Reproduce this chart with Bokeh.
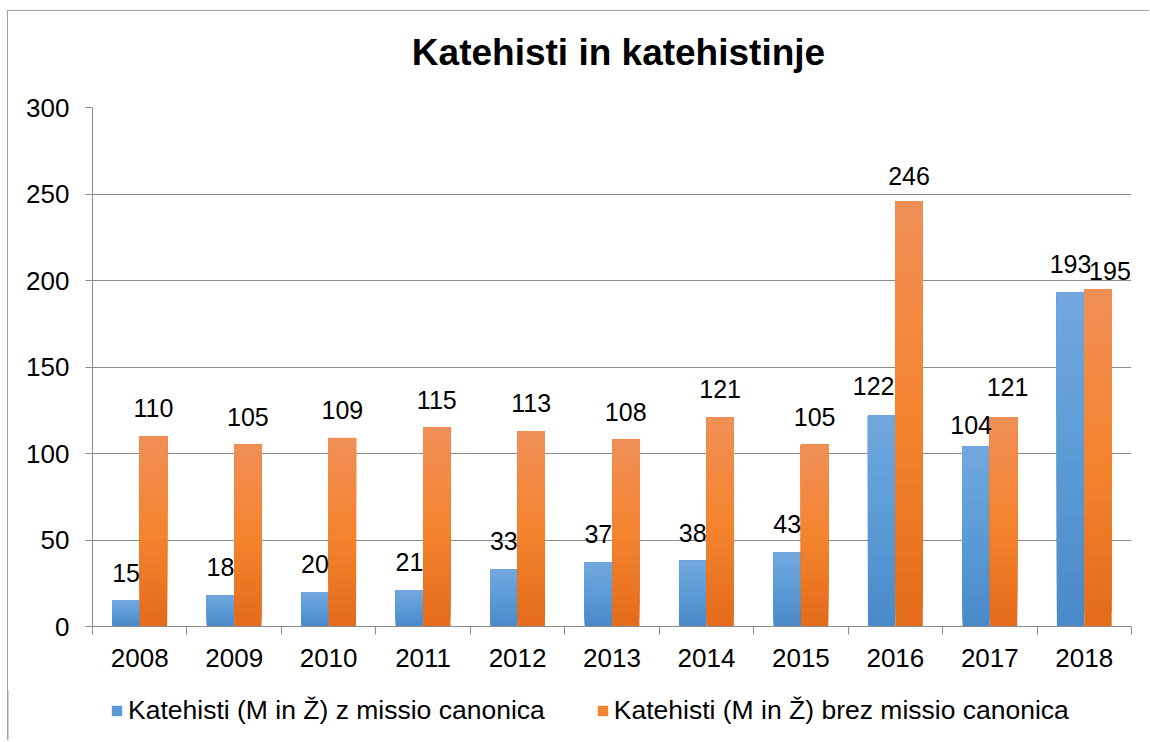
import numpy as np
from bokeh.plotting import figure
from bokeh.layouts import column
from bokeh.models import (Range1d, FixedTicker, LinearAxis, Legend, LegendItem,
                          ColumnDataSource)
from bokeh.embed import file_html
from bokeh.resources import INLINE

# ---------------- data ----------------
years = ["2008", "2009", "2010", "2011", "2012", "2013", "2014", "2015", "2016", "2017", "2018"]
with_missio = [15, 18, 20, 21, 33, 37, 38, 43, 122, 104, 193]
without_missio = [110, 105, 109, 115, 113, 108, 121, 105, 246, 121, 195]
series_names = ["Katehisti (M in Ž) z missio canonica",
                "Katehisti (M in Ž) brez missio canonica"]
y_ticks = [0, 50, 100, 150, 200, 250, 300]
title_text = "Katehisti in katehistinje"

# label nudges (pixels) to mimic hand-moved Excel labels
blue_dx = [0, 0, 0, 0, 0, 0, 0, 0, -8, -5, 0]
blue_dy = [-28, -28, -28, -28, -28, -28, -28, -28, -29, -22, -29]
orange_dx = [0, 0, 0, 0, 0, 0, 0, 0, 0, 4, 12]
orange_dy = [-28, -28, -28, -28, -28, -28, -28, -28, -25, -30, -18]

FONT = "Liberation Sans"
GRAY = "#8c8c8c"
BLUE_STOPS = ["#4a89c8", "#5b9bd5", "#72a8de"]     # bottom, middle, top
ORANGE_STOPS = ["#e36b1a", "#f5842f", "#f08f57"]

W, H_TITLE, H_MAIN, H_LEG = 1141, 76, 603, 50

# ---------------- title strip ----------------
tf = figure(width=W, height=H_TITLE, output_backend="svg", toolbar_location=None,
            x_range=Range1d(0, W), y_range=Range1d(0, H_TITLE),
            x_axis_type=None, y_axis_type=None,
            min_border_left=0, min_border_right=0, min_border_top=0, min_border_bottom=0,
            background_fill_color="white", border_fill_color="white")
tf.frame_align = False
tf.outline_line_color = None
tf.grid.visible = False
tf.text(x=[610], y=[H_TITLE - 41], text=[title_text],
        text_align="center", text_baseline="middle",
        text_font={"value": FONT}, text_font_style="bold",
        text_font_size="37px", text_color="black")

# ---------------- main chart ----------------
p = figure(width=W, height=H_MAIN, output_backend="svg", toolbar_location=None,
           x_range=Range1d(0, len(years)), y_range=Range1d(0, 300),
           x_axis_type=None,
           min_border_left=84, min_border_right=18, min_border_top=20, min_border_bottom=64,
           background_fill_color="white", border_fill_color="white")
p.outline_line_color = None
p.title.text = ""
p.title.standoff = 0
p.title.text_font_size = "8px"

# y axis
ya = p.yaxis[0]
ya.ticker = FixedTicker(ticks=y_ticks)
ya.major_label_text_font = FONT
ya.major_label_text_font_size = "26px"
ya.major_label_text_color = "black"
ya.major_tick_out = 7
ya.major_tick_in = 0
ya.minor_tick_line_color = None
ya.axis_line_color = GRAY
ya.major_tick_line_color = GRAY
ya.major_label_standoff = 16

p.ygrid.ticker = FixedTicker(ticks=y_ticks)
p.ygrid.grid_line_color = GRAY
p.ygrid.grid_line_width = 1

# x axis: labels at category centres, ticks at category boundaries
centers = [i + 0.5 for i in range(len(years))]
bounds = [float(i) for i in range(len(years) + 1)]
xa = LinearAxis(ticker=FixedTicker(ticks=centers, minor_ticks=bounds))
xa.major_label_overrides = {c: y for c, y in zip(centers, years)}
xa.major_tick_line_color = None
xa.major_tick_out = 0
xa.major_tick_in = 0
xa.minor_tick_out = 8
xa.minor_tick_in = 0
xa.minor_tick_line_color = GRAY
xa.axis_line_color = GRAY
xa.major_label_text_font = FONT
xa.major_label_text_font_size = "26px"
xa.major_label_text_color = "black"
xa.major_label_standoff = 14
p.add_layout(xa, "below")


def hex2rgb(h):
    h = h.lstrip("#")
    return [int(h[i:i + 2], 16) for i in (0, 2, 4)]


def grad(stops, t):
    a, b, c = [hex2rgb(s) for s in stops]
    if t < 0.5:
        u = t / 0.5
        lo, hi = a, b
    else:
        u = (t - 0.5) / 0.5
        lo, hi = b, c
    rgb = [round(lo[k] + (hi[k] - lo[k]) * u) for k in range(3)]
    return "#%02x%02x%02x" % tuple(rgb)


BAR_W = 0.29
OFFS = [-0.145, 0.145]
N = 24
for vals, stops, off in [(with_missio, BLUE_STOPS, OFFS[0]),
                         (without_missio, ORANGE_STOPS, OFFS[1])]:
    xs, bots, tops, cols = [], [], [], []
    for i in range(N):
        c = grad(stops, (i + 0.5) / N)
        for k, v in enumerate(vals):
            xs.append(k + 0.5 + off)
            bots.append(v * i / N)
            tops.append(v)
            cols.append(c)
    src = ColumnDataSource(dict(x=xs, bottom=bots, top=tops, color=cols))
    p.vbar(x="x", bottom="bottom", top="top", width=BAR_W, source=src,
           fill_color="color", line_color=None)

# data labels
for vals, off, dx, dy in [(with_missio, OFFS[0], blue_dx, blue_dy),
                          (without_missio, OFFS[1], orange_dx, orange_dy)]:
    src = ColumnDataSource(dict(x=[k + 0.5 + off for k in range(len(vals))], y=vals,
                                t=[str(v) for v in vals], dx=dx, dy=dy))
    p.text(x="x", y="y", text="t", x_offset="dx", y_offset="dy", source=src,
           text_align="center", text_baseline="middle",
           text_font_size="25px", text_color="black",
           text_font={"value": FONT})

# ---------------- legend strip ----------------
lf = figure(width=W, height=H_LEG, output_backend="svg", toolbar_location=None,
            x_range=Range1d(0, 1), y_range=Range1d(0, 1),
            x_axis_type=None, y_axis_type=None,
            min_border_left=0, min_border_right=0, min_border_top=0, min_border_bottom=0,
            background_fill_color="white", border_fill_color="white")
lf.frame_align = False
lf.outline_line_color = None
lf.grid.visible = False
# swatch carriers placed outside the visible range
r_blue = lf.vbar(x=[-10], top=[1], width=0.1, fill_color=BLUE_STOPS[1], line_color=None)
r_orange = lf.vbar(x=[-10], top=[1], width=0.1, fill_color=ORANGE_STOPS[1], line_color=None)
legend = Legend(items=[LegendItem(label=series_names[0], renderers=[r_blue]),
                       LegendItem(label=series_names[1], renderers=[r_orange])],
                orientation="horizontal", location=(102, 14))
legend.label_text_font = FONT
legend.label_text_font_size = "26.5px"
legend.label_text_color = "black"
legend.glyph_width = 13
legend.glyph_height = 13
legend.label_standoff = 5
legend.spacing = 51
legend.padding = 0
legend.margin = 0
legend.border_line_color = None
legend.background_fill_alpha = 0
lf.add_layout(legend, "center")

layout = column(tf, p, lf, spacing=0)
layout.styles = {"margin-left": "7px", "margin-top": "10px",
                 "border-left": "1px solid #a0a0a0", "border-top": "1px solid #a0a0a0"}
open("out.html", "w").write(file_html(layout, INLINE))
